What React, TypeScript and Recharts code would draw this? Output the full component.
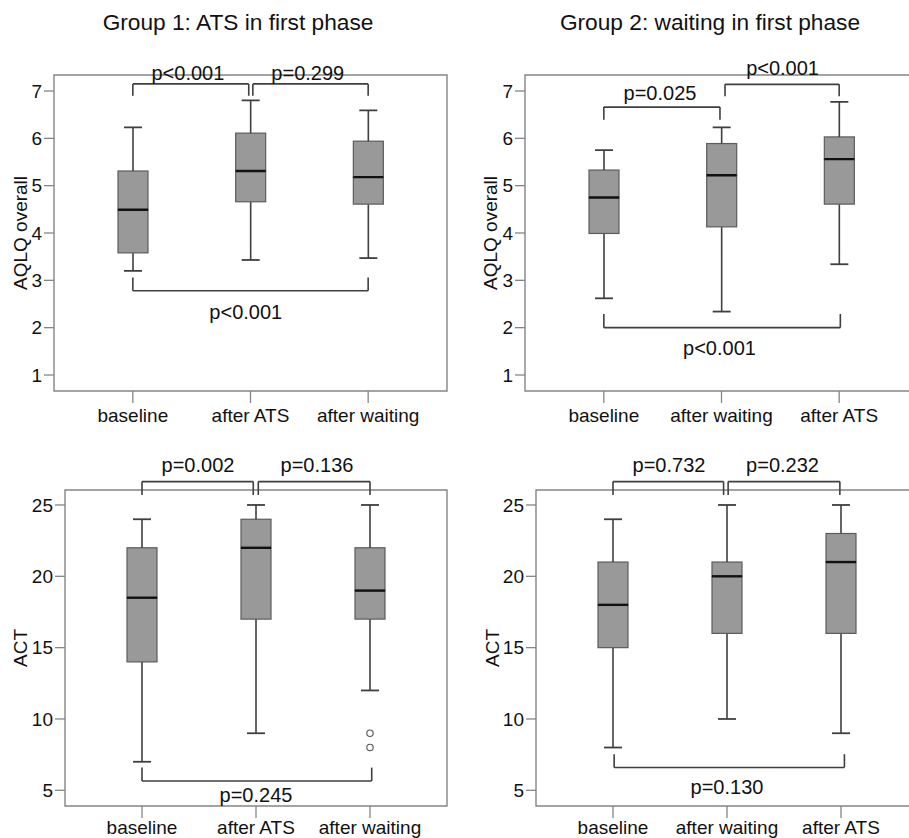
import React from 'react';
import { ComposedChart, Bar, XAxis, YAxis, ReferenceLine, ReferenceDot, ReferenceArea } from 'recharts';

const FONT = '"Liberation Sans", Arial, Helvetica, sans-serif';

// ---------- data ----------
const titleGroup1 = 'Group 1: ATS in first phase';
const titleGroup2 = 'Group 2: waiting in first phase';

const g1Categories = ['baseline', 'after ATS', 'after waiting'];
const g2Categories = ['baseline', 'after waiting', 'after ATS'];

const aqlqTicks = [1, 2, 3, 4, 5, 6, 7];
const actTicks = [5, 10, 15, 20, 25];

// Group 1 AQLQ
const g1AqlqMin = [3.2, 3.43, 3.47];
const g1AqlqQ1 = [3.58, 4.66, 4.61];
const g1AqlqMedian = [4.49, 5.31, 5.18];
const g1AqlqQ3 = [5.31, 6.11, 5.94];
const g1AqlqMax = [6.23, 6.8, 6.59];

// Group 2 AQLQ
const g2AqlqMin = [2.62, 2.34, 3.34];
const g2AqlqQ1 = [3.99, 4.13, 4.61];
const g2AqlqMedian = [4.75, 5.22, 5.56];
const g2AqlqQ3 = [5.33, 5.89, 6.03];
const g2AqlqMax = [5.75, 6.23, 6.77];

// Group 1 ACT
const g1ActMin = [7, 9, 12];
const g1ActQ1 = [14, 17, 17];
const g1ActMedian = [18.5, 22, 19];
const g1ActQ3 = [22, 24, 22];
const g1ActMax = [24, 25, 25];
const g1ActOutliers = [
  { pos: 3, value: 9 },
  { pos: 3, value: 8 },
];

// Group 2 ACT
const g2ActMin = [8, 10, 9];
const g2ActQ1 = [15, 16, 16];
const g2ActMedian = [18, 20, 21];
const g2ActQ3 = [21, 21, 23];
const g2ActMax = [24, 25, 25];

// significance brackets (positions in category units, 1 = first category)
const g1AqlqBrackets = [
  { from: 1, to: 1.985, level: 7.15, tip: 6.9 },
  { from: 2.02, to: 3, level: 7.15, tip: 6.9 },
  { from: 1, to: 3, level: 2.78, tip: 3.06 },
];
const g1AqlqPLabels = [
  { text: 'p<0.001', x: 1.468, y: 7.38 },
  { text: 'p=0.299', x: 2.487, y: 7.38 },
  { text: 'p<0.001', x: 1.96, y: 2.33 },
];

const g2AqlqBrackets = [
  { from: 1, to: 1.987, level: 6.66, tip: 6.39 },
  { from: 2.03, to: 3, level: 7.14, tip: 6.89 },
  { from: 1, to: 3.01, level: 2.0, tip: 2.29 },
];
const g2AqlqPLabels = [
  { text: 'p=0.025', x: 1.477, y: 6.96 },
  { text: 'p<0.001', x: 2.519, y: 7.49 },
  { text: 'p<0.001', x: 1.983, y: 1.57 },
];

const g1ActBrackets = [
  { from: 1, to: 1.976, level: 26.64, tip: 25.7 },
  { from: 2.02, to: 3, level: 26.64, tip: 25.7 },
  { from: 1, to: 3.015, level: 5.65, tip: 6.59 },
];
const g1ActPLabels = [
  { text: 'p=0.002', x: 1.491, y: 27.81 },
  { text: 'p=0.136', x: 2.535, y: 27.81 },
  { text: 'p=0.245', x: 2.0, y: 4.72 },
];

const g2ActBrackets = [
  { from: 1, to: 1.97, level: 26.64, tip: 25.7 },
  { from: 2.01, to: 2.99, level: 26.64, tip: 25.7 },
  { from: 1.01, to: 3.03, level: 6.6, tip: 7.53 },
];
const g2ActPLabels = [
  { text: 'p=0.732', x: 1.491, y: 27.81 },
  { text: 'p=0.232', x: 2.487, y: 27.81 },
  { text: 'p=0.130', x: 2.0, y: 5.25 },
];

// ---------- styles ----------
const FRAME = '#858585';
const WHISKER = '#3f3f3f';
const BOX_FILL = '#999999';
const BOX_STROKE = '#5c5c5c';
const MEDIAN = '#111111';
const TEXT = '#111111';

type Stats = { min: number[]; q1: number[]; median: number[]; q3: number[]; max: number[] };
type Bracket = { from: number; to: number; level: number; tip: number };
type PLabel = { text: string; x: number; y: number };

function buildRows(categories: string[], s: Stats) {
  return categories.map((cat, i) => ({
    cat,
    base: s.min[i],
    lowerWhisker: s.q1[i] - s.min[i],
    lowerBox: s.median[i] - s.q1[i],
    upperBox: s.q3[i] - s.median[i],
    upperWhisker: s.max[i] - s.q3[i],
  }));
}

const CAP = 9;

const EmptyShape = () => <g />;

const LowerWhiskerShape = (p: any) => {
  const cx = p.x + p.width / 2;
  const top = p.y;
  const bottom = p.y + p.height;
  return (
    <g>
      <line x1={cx} x2={cx} y1={top} y2={bottom} stroke={WHISKER} strokeWidth={1.6} />
      <line x1={cx - CAP} x2={cx + CAP} y1={bottom} y2={bottom} stroke={WHISKER} strokeWidth={1.8} />
    </g>
  );
};

const UpperWhiskerShape = (p: any) => {
  const cx = p.x + p.width / 2;
  const top = p.y;
  const bottom = p.y + p.height;
  return (
    <g>
      <line x1={cx} x2={cx} y1={top} y2={bottom} stroke={WHISKER} strokeWidth={1.6} />
      <line x1={cx - CAP} x2={cx + CAP} y1={top} y2={top} stroke={WHISKER} strokeWidth={1.8} />
    </g>
  );
};

const LowerBoxShape = (p: any) => (
  <rect x={p.x} y={p.y} width={p.width} height={p.height} fill={BOX_FILL} stroke={BOX_STROKE} strokeWidth={1.2} />
);

const UpperBoxShape = (p: any) => {
  const bottom = p.y + p.height;
  return (
    <g>
      <rect x={p.x} y={p.y} width={p.width} height={p.height} fill={BOX_FILL} stroke={BOX_STROKE} strokeWidth={1.2} />
      <line x1={p.x} x2={p.x + p.width} y1={bottom} y2={bottom} stroke={MEDIAN} strokeWidth={2.4} />
    </g>
  );
};

type PanelProps = {
  left: number;
  top: number;
  width: number;
  height: number;
  marginTop: number;
  marginRight: number;
  yAxisWidth: number;
  xAxisHeight: number;
  xTickMargin: number;
  categories: string[];
  stats: Stats;
  yDomain: [number, number];
  yTicks: number[];
  xDomain: [number, number];
  brackets: Bracket[];
  pLabels: PLabel[];
  outliers: { pos: number; value: number }[];
  yLabel: string;
  yLabelX: number;
};

function Panel(props: PanelProps) {
  const rows = buildRows(props.categories, props.stats);
  const plotCenterY =
    props.marginTop + (props.height - props.marginTop - props.xAxisHeight) / 2;

  const yLabelContent = (lp: any) => {
    const vb = lp && lp.viewBox;
    const cy = vb && typeof vb.y === 'number' && typeof vb.height === 'number' ? vb.y + vb.height / 2 : plotCenterY;
    const x = props.yLabelX;
    return (
      <text
        x={x}
        y={cy}
        transform={`rotate(-90 ${x} ${cy})`}
        textAnchor="middle"
        fontSize={19}
        fontFamily={FONT}
        fill={TEXT}
      >
        {props.yLabel}
      </text>
    );
  };

  return (
    <div style={{ position: 'absolute', left: props.left, top: props.top, width: props.width, height: props.height }}>
      <ComposedChart
        width={props.width}
        height={props.height}
        data={rows}
        margin={{ top: props.marginTop, right: props.marginRight, bottom: 0, left: 0 }}
        barCategoryGap={0}
      >
        <XAxis
          dataKey="cat"
          type="category"
          padding={{ left: 20, right: 20 }}
          height={props.xAxisHeight}
          interval={0}
          axisLine={false}
          tickLine={{ stroke: FRAME, strokeWidth: 1.3 }}
          tickSize={12}
          tickMargin={props.xTickMargin}
          tick={{ fontSize: 19, fill: TEXT, fontFamily: FONT }}
        />
        <XAxis xAxisId="n" type="number" dataKey="nx" domain={props.xDomain} hide allowDataOverflow />
        <YAxis
          type="number"
          domain={props.yDomain}
          ticks={props.yTicks}
          allowDataOverflow
          width={props.yAxisWidth}
          axisLine={false}
          tickLine={{ stroke: FRAME, strokeWidth: 1.3 }}
          tickSize={10}
          tickMargin={2}
          tick={{ fontSize: 19, fill: TEXT, fontFamily: FONT }}
          label={{ content: yLabelContent }}
        />
        <ReferenceArea
          xAxisId="n"
          x1={props.xDomain[0]}
          x2={props.xDomain[1]}
          y1={props.yDomain[0]}
          y2={props.yDomain[1]}
          fill="none"
          fillOpacity={0}
          stroke={FRAME}
          strokeWidth={1.4}
          ifOverflow="visible"
        />
        <Bar dataKey="base" stackId="box" barSize={30} shape={EmptyShape} fill="none" isAnimationActive={false} />
        <Bar dataKey="lowerWhisker" stackId="box" barSize={30} shape={LowerWhiskerShape} isAnimationActive={false} />
        <Bar dataKey="lowerBox" stackId="box" barSize={30} shape={LowerBoxShape} isAnimationActive={false} />
        <Bar dataKey="upperBox" stackId="box" barSize={30} shape={UpperBoxShape} isAnimationActive={false} />
        <Bar dataKey="upperWhisker" stackId="box" barSize={30} shape={UpperWhiskerShape} isAnimationActive={false} />
        {props.outliers.map((o, i) => (
          <ReferenceDot
            key={'o' + i}
            xAxisId="n"
            x={o.pos}
            y={o.value}
            r={3.2}
            fill="#ffffff"
            stroke="#555555"
            strokeWidth={1.1}
            ifOverflow="visible"
          />
        ))}
        {props.brackets.flatMap((b, i) => [
          <ReferenceLine
            key={'bl' + i}
            xAxisId="n"
            segment={[{ x: b.from, y: b.tip }, { x: b.from, y: b.level }]}
            stroke={WHISKER}
            strokeWidth={1.6}
            ifOverflow="visible"
          />,
          <ReferenceLine
            key={'bh' + i}
            xAxisId="n"
            segment={[{ x: b.from, y: b.level }, { x: b.to, y: b.level }]}
            stroke={WHISKER}
            strokeWidth={1.6}
            ifOverflow="visible"
          />,
          <ReferenceLine
            key={'br' + i}
            xAxisId="n"
            segment={[{ x: b.to, y: b.level }, { x: b.to, y: b.tip }]}
            stroke={WHISKER}
            strokeWidth={1.6}
            ifOverflow="visible"
          />,
        ])}
        {props.pLabels.map((l, i) => (
          <ReferenceDot
            key={'p' + i}
            xAxisId="n"
            x={l.x}
            y={l.y}
            r={0}
            ifOverflow="visible"
            shape={(sp: any) => (
              <text
                x={sp.cx}
                y={sp.cy}
                dy="0.36em"
                textAnchor="middle"
                fontSize={20}
                fontFamily={FONT}
                fill={TEXT}
              >
                {l.text}
              </text>
            )}
          />
        ))}
      </ComposedChart>
    </div>
  );
}

export default function App() {
  const aqlqDomain: [number, number] = [0.662, 7.338];
  const actDomain: [number, number] = [3.9, 26.05];
  const topXDomain: [number, number] = [0.33, 3.67];
  const bottomXDomain: [number, number] = [0.3246, 3.6754];

  return (
    <div
      style={{
        position: 'absolute',
        left: 0,
        top: 0,
        width: 909,
        height: 838,
        overflow: 'hidden',
        background: '#ffffff',
        fontFamily: FONT,
      }}
    >
      <svg style={{ position: 'absolute', left: 0, top: 0 }} width={909} height={40}>
        <text x={238} y={29.5} textAnchor="middle" fontSize={22.7} fontFamily={FONT} fill={TEXT}>
          {titleGroup1}
        </text>
        <text x={710} y={29.5} textAnchor="middle" fontSize={22.7} fontFamily={FONT} fill={TEXT}>
          {titleGroup2}
        </text>
      </svg>

      <Panel
        left={0}
        top={0}
        width={460}
        height={440}
        marginTop={75}
        marginRight={13}
        yAxisWidth={54}
        xAxisHeight={49}
        xTickMargin={5.5}
        categories={g1Categories}
        stats={{ min: g1AqlqMin, q1: g1AqlqQ1, median: g1AqlqMedian, q3: g1AqlqQ3, max: g1AqlqMax }}
        yDomain={aqlqDomain}
        yTicks={aqlqTicks}
        xDomain={topXDomain}
        brackets={g1AqlqBrackets}
        pLabels={g1AqlqPLabels}
        outliers={[]}
        yLabel="AQLQ overall"
        yLabelX={26.5}
      />
      <Panel
        left={460}
        top={0}
        width={460}
        height={440}
        marginTop={75}
        marginRight={2}
        yAxisWidth={65}
        xAxisHeight={49}
        xTickMargin={5.5}
        categories={g2Categories}
        stats={{ min: g2AqlqMin, q1: g2AqlqQ1, median: g2AqlqMedian, q3: g2AqlqQ3, max: g2AqlqMax }}
        yDomain={aqlqDomain}
        yTicks={aqlqTicks}
        xDomain={topXDomain}
        brackets={g2AqlqBrackets}
        pLabels={g2AqlqPLabels}
        outliers={[]}
        yLabel="AQLQ overall"
        yLabelX={36.7}
      />
      <Panel
        left={0}
        top={440}
        width={460}
        height={398}
        marginTop={50}
        marginRight={13}
        yAxisWidth={65}
        xAxisHeight={32}
        xTickMargin={2.5}
        categories={g1Categories}
        stats={{ min: g1ActMin, q1: g1ActQ1, median: g1ActMedian, q3: g1ActQ3, max: g1ActMax }}
        yDomain={actDomain}
        yTicks={actTicks}
        xDomain={bottomXDomain}
        brackets={g1ActBrackets}
        pLabels={g1ActPLabels}
        outliers={g1ActOutliers}
        yLabel="ACT"
        yLabelX={26.7}
      />
      <Panel
        left={460}
        top={440}
        width={460}
        height={398}
        marginTop={50}
        marginRight={2}
        yAxisWidth={76}
        xAxisHeight={32}
        xTickMargin={2.5}
        categories={g2Categories}
        stats={{ min: g2ActMin, q1: g2ActQ1, median: g2ActMedian, q3: g2ActQ3, max: g2ActMax }}
        yDomain={actDomain}
        yTicks={actTicks}
        xDomain={bottomXDomain}
        brackets={g2ActBrackets}
        pLabels={g2ActPLabels}
        outliers={[]}
        yLabel="ACT"
        yLabelX={38.5}
      />
    </div>
  );
}
